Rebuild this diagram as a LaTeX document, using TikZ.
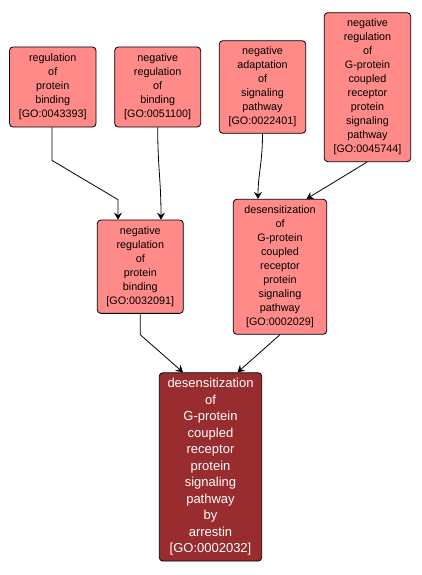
\documentclass[tikz,border=0pt]{standalone}
\usepackage{fontspec}
\setmainfont{Liberation Sans}
\usetikzlibrary{arrows.meta,calc}
\definecolor{lightgo}{RGB}{255,138,136}
\definecolor{darkgo}{RGB}{152,44,46}
\begin{document}
\begin{tikzpicture}[x=1pt,y=-1pt,
  gobox/.style={draw=black,line width=0.8pt,rounded corners=3.5pt,fill=lightgo,
    align=center,inner sep=0pt,font=\fontsize{10.8}{14}\selectfont,text=black},
  darkbox/.style={gobox,fill=darkgo,text=white,font=\fontsize{13}{16.5}\selectfont},
  edge/.style={draw=black,line width=0.8pt,-{Stealth[length=7pt,width=8pt,inset=2.5pt]}}]
\useasboundingbox (0,0) rectangle (421,575);
\node[gobox,minimum width=86.5pt,minimum height=80pt] (b1) at (52.75,87)
  {regulation\\of\\protein\\binding\\{[GO:0043393]}};
\node[gobox,minimum width=86pt,minimum height=80pt] (b2) at (157.7,87)
  {negative\\regulation\\of\\binding\\{[GO:0051100]}};
\node[gobox,minimum width=86.4pt,minimum height=92.6pt] (b3) at (262.5,87)
  {negative\\adaptation\\of\\signaling\\pathway\\{[GO:0022401]}};
\node[gobox,minimum width=86.4pt,minimum height=149pt] (b4) at (367.5,87.2)
  {negative\\regulation\\of\\G-protein\\coupled\\receptor\\protein\\signaling\\pathway\\{[GO:0045744]}};
\node[gobox,minimum width=86pt,minimum height=93.3pt] (b5) at (140.3,266.7)
  {negative\\regulation\\of\\protein\\binding\\{[GO:0032091]}};
\node[gobox,minimum width=93.4pt,minimum height=135pt] (b6) at (280,266.8)
  {desensitization\\of\\G-protein\\coupled\\receptor\\protein\\signaling\\pathway\\{[GO:0002029]}};
\node[darkbox,minimum width=102.4pt,minimum height=188.3pt] (b7) at (210.5,466.9)
  {desensitization\\of\\G-protein\\coupled\\receptor\\protein\\signaling\\pathway\\by\\arrestin\\{[GO:0002032]}};
\coordinate (e1) at ($(b5.north)+(-22.3,0)$);
\coordinate (e2) at ($(b5.north)+(20.7,0)$);
\coordinate (e3) at ($(b6.north)+(-22,0)$);
\coordinate (e4) at ($(b6.north)+(26.5,0)$);
\coordinate (e5) at ($(b7.north)+(-27.5,0)$);
\coordinate (e6) at ($(b7.north)+(27,0)$);
\draw[edge] ([xshift=-0.75pt]b1.south) -- ++(0,33) -- ($(e1)+(0,-20)$) -- (e1);
\draw[edge] (b2.south) .. controls ($(b2.south)+(0,40)$) and ($(e2)+(0,-40)$) .. (e2);
\draw[edge] (b3.south) .. controls ($(b3.south)+(0,30)$) and ($(e3)+(0,-25)$) .. (e3);
\draw[edge] ([xshift=-0.5pt]b4.south) -- (e4);
\draw[edge] (b5.south) -- ++(0,21) -- (e5);
\draw[edge] (b6.south) -- (e6);
\end{tikzpicture}
\end{document}
